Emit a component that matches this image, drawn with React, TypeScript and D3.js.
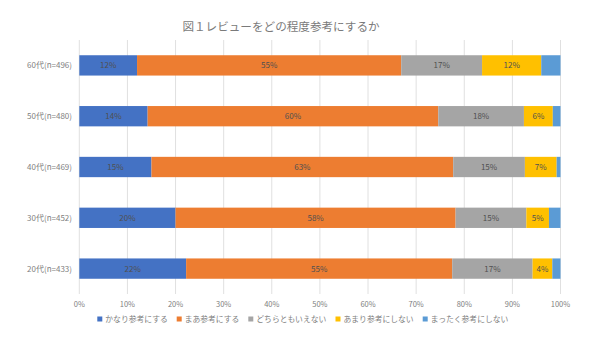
import React from "react";
import * as d3 from "d3";

const categories = ["60代(n=496)", "50代(n=480)", "40代(n=469)", "30代(n=452)", "20代(n=433)"];
const seriesNames = ["かなり参考にする", "まあ参考にする", "どちらともいえない", "あまり参考にしない", "まったく参考にしない"];
const s1 = [12.0, 14.2, 15.0, 20.0, 22.2];
const s2 = [54.9, 60.4, 62.7, 58.2, 55.3];
const s3 = [16.8, 17.8, 14.9, 14.7, 16.7];
const s4 = [12.3, 6.0, 6.6, 4.7, 4.1];
const s5 = [4.0, 1.6, 0.8, 2.4, 1.7];
const showLabel = [true, true, true, true, false];
const colors = ["#4472C4", "#ED7D31", "#A5A5A5", "#FFC000", "#5B9BD5"];
const xTicks = [0, 10, 20, 30, 40, 50, 60, 70, 80, 90, 100];
const title = "図１レビューをどの程度参考にするか";

const FONT = "'Noto Sans CJK JP', 'Noto Sans', sans-serif";

export default function App() {
  const W = 600, H = 338;
  const x = d3.scaleLinear().domain([0, 100]).range([79.3, 560.5]);
  const y = d3.scaleBand<string>().domain(categories).range([40, 294]).paddingInner(0.6).paddingOuter(0.3);
  const series = [s1, s2, s3, s4, s5];
  const stackData = categories.map((c, i) => {
    const o: any = { cat: c };
    series.forEach((s, k) => (o["k" + k] = s[i]));
    return o;
  });
  const stack = d3.stack<any>().keys(series.map((_, k) => "k" + k));
  const layers = stack(stackData);

  const legFs = 7.8;
  const items = seriesNames.map((n) => 8 + n.length * legFs);
  const gap = 9;
  const total = items.reduce((a, b) => a + b, 0) + gap * (items.length - 1);
  let lx = 303 - total / 2;
  const legendPos = items.map((w) => {
    const p = lx;
    lx += w + gap;
    return p;
  });

  return (
    <svg width={W} height={H} style={{ position: "absolute", left: 0, top: 0, background: "#fff" }} fontFamily={FONT}>
      <rect width={W} height={H} fill="#fff" />
      <text x={281} y={31} textAnchor="middle" fontSize={11.6} fill="#7a7a7a">{title}</text>
      {xTicks.map((t) => (
        <g key={t}>
          <line x1={x(t)} x2={x(t)} y1={40} y2={294} stroke="#e0e0e0" strokeWidth={1} />
          <text x={x(t)} y={307} textAnchor="middle" fontSize={7.5} fill="#808080">{t + "%"}</text>
        </g>
      ))}
      {categories.map((c) => (
        <text key={c} x={72} y={(y(c) as number) + y.bandwidth() / 2 + 3} textAnchor="end" fontSize={8} fill="#808080">{c}</text>
      ))}
      {layers.map((layer, k) => (
        <g key={k}>
          {layer.map((d, i) => (
            <rect key={i} x={x(d[0])} y={y(categories[i])} width={x(d[1]) - x(d[0])} height={y.bandwidth()} fill={colors[k]} />
          ))}
        </g>
      ))}
      {layers.map((layer, k) =>
        showLabel[k]
          ? layer.map((d, i) => (
              <text key={k + "-" + i} x={(x(d[0]) + x(d[1])) / 2} y={(y(categories[i]) as number) + y.bandwidth() / 2 + 3} textAnchor="middle" fontSize={8} fill="#505050">
                {Math.round(series[k][i]) + "%"}
              </text>
            ))
          : null
      )}
      {seriesNames.map((n, k) => (
        <g key={n}>
          <rect x={legendPos[k]} y={316.5} width={5} height={5} fill={colors[k]} />
          <text x={legendPos[k] + 8} y={322} fontSize={legFs} fill="#808080">{n}</text>
        </g>
      ))}
    </svg>
  );
}
